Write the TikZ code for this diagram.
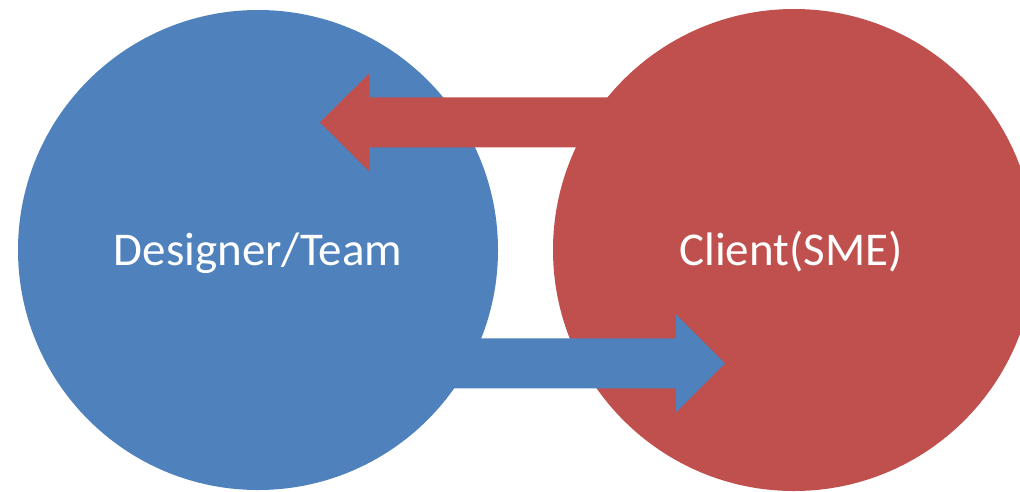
\documentclass[tikz,border=0pt]{standalone}
\usepackage{fontspec}
\setmainfont{Carlito}
\usepackage{xcolor}
\usetikzlibrary{positioning,calc}
\definecolor{teamblue}{HTML}{4F81BD}
\definecolor{clientred}{HTML}{C0504D}

\begin{document}
\begin{tikzpicture}[x=1pt, y=-1pt,
    party/.style={circle, inner sep=0pt},
    partyname/.style={anchor=base, inner sep=0pt, text=white, font=\fontsize{47}{56}\selectfont},
    flow/.style={draw=none}]
    \useasboundingbox (0,0) rectangle (1020,491);

    % Designer side
    \node[party, fill=teamblue, minimum size=480pt] (designer) at (258,250) {};
    \node[partyname] (designername) at ($(designer.center)+(0,15)$) {Designer/Team};

    % Feedback arrow (client to designer)
    \fill[flow, clientred] (640,97.3) -- (369.3,97.3) -- (369.3,73.3) -- (320,122.3)
        -- (369.3,171.3) -- (369.3,147.3) -- (640,147.3) -- cycle;

    % Client side
    \node[party, fill=clientred, minimum size=482pt] (client) at (794,250) {};
    \node[partyname] (clientname) at ($(client.center)+(-3,15)$) {Client(SME)};

    % Delivery arrow (designer to client)
    \fill[flow, teamblue] (400,338.3) -- (676,338.3) -- (676,314.3) -- (725,363.3)
        -- (676,412.3) -- (676,388.3) -- (400,388.3) -- cycle;
\end{tikzpicture}
\end{document}
